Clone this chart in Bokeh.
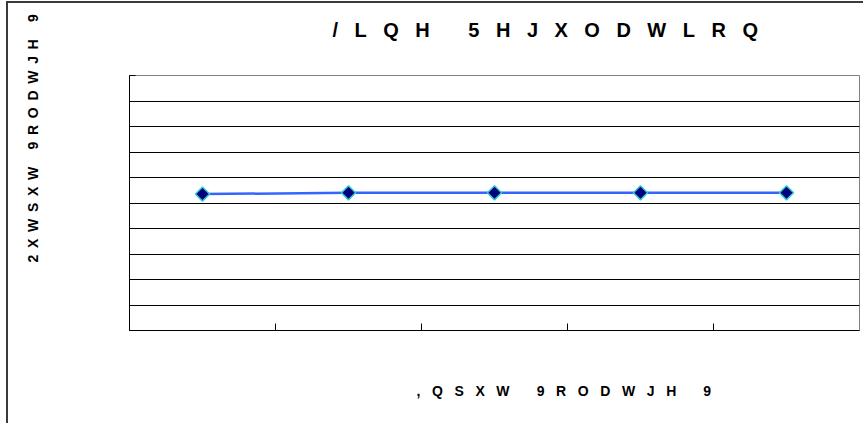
import math
from bokeh.plotting import figure
from bokeh.models import (Range1d, FixedTicker, CustomJSTickFormatter, Title, CustomJS)
from bokeh.embed import file_html
from bokeh.resources import INLINE

# ---- data ----
categories = ["1", "2", "3", "4", "5"]
output_voltage = [5.35, 5.40, 5.40, 5.40, 5.40]
y_ticks = [0, 1, 2, 3, 4, 5, 6, 7, 8, 9, 10]
category_bounds = [1, 2, 3, 4]
title_text = "/LQH 5HJXODWLRQ"
x_label_text = ",QSXW 9RODWJH 9"
y_label_text = "2XWSXW 9RODWJH 9"

x_pos = [i + 0.5 for i in range(len(categories))]

FONT = "Liberation Sans"

p = figure(width=936, height=485, output_backend="svg", toolbar_location=None, tools="",
           x_range=Range1d(0, len(categories)), y_range=Range1d(y_ticks[0], y_ticks[-1]),
           min_border_left=202, min_border_right=4, min_border_top=100, min_border_bottom=130)

p.styles = {
    "margin-left": "-73px", "margin-top": "-25px", "margin-bottom": "-37px",
    "background": ("linear-gradient(#3a3a3a,#3a3a3a) 79px 26px / 2px 459px no-repeat, "
                   "linear-gradient(#3a3a3a,#3a3a3a) 79px 26px / 857px 2px no-repeat, #ffffff"),
}

p.background_fill_color = "white"
p.border_fill_color = None
p.outline_line_color = "#808080"
p.outline_line_width = 1

empty = CustomJSTickFormatter(code="return ''")

xa = p.xaxis[0]
xa.ticker = FixedTicker(ticks=category_bounds)
xa.formatter = empty
xa.axis_line_color = "black"
xa.major_tick_in = 7
xa.major_tick_out = 0
xa.minor_tick_line_color = None
xa.major_tick_line_color = "black"
xa.major_label_standoff = 0

ya = p.yaxis[0]
ya.ticker = FixedTicker(ticks=y_ticks)
ya.formatter = empty
ya.axis_line_color = "black"
ya.major_tick_in = 6
ya.major_tick_out = 0
ya.minor_tick_line_color = None
ya.major_tick_line_color = "black"
ya.major_label_standoff = 0

p.xgrid.visible = False
p.ygrid.ticker = FixedTicker(ticks=y_ticks)
p.ygrid.grid_line_color = "black"
p.ygrid.grid_line_width = 1
p.ygrid.grid_line_alpha = 1

p.line(x_pos, output_voltage, line_color="#3366ff", line_width=2.5)
p.scatter(x_pos, output_voltage, marker="square", angle=math.pi / 4, size=10,
          fill_color="#000080", line_color="#33cccc", line_width=1.5)

p.title.text = title_text
p.title.align = "left"
p.title.offset = 203
p.title.standoff = 70
p.title.text_font = FONT
p.title.text_font_style = "bold"
p.title.text_font_size = "20px"
p.title.text_color = "black"

xlab = Title(text=x_label_text, align="left", offset=287, standoff=101,
             text_font=FONT, text_font_style="bold", text_font_size="14px", text_color="black")
p.add_layout(xlab, "below")
ylab = Title(text=y_label_text, align="left", offset=68, standoff=177,
             text_font=FONT, text_font_style="bold", text_font_size="14px", text_color="black")
p.add_layout(ylab, "left")

spacing_js = CustomJS(args=dict(t=title_text, xl=x_label_text, yl=y_label_text), code="""
const specs = {};
specs[t] = "16.5px"; specs[xl] = "11.6px"; specs[yl] = "6.7px";
function walk(root) {
  for (const el of root.querySelectorAll("*")) {
    if (el.shadowRoot) walk(el.shadowRoot);
    if (el.tagName.toLowerCase() === "text" && specs[el.textContent] !== undefined) {
      if (el.style.letterSpacing !== specs[el.textContent]) el.style.letterSpacing = specs[el.textContent];
    }
  }
}
walk(document);
if (!window.__ls_timer) { window.__ls_timer = setInterval(() => walk(document), 30); }
""")
p.js_on_change("inner_width", spacing_js)
p.js_on_change("inner_height", spacing_js)

open("out.html", "w").write(file_html(p, INLINE))
